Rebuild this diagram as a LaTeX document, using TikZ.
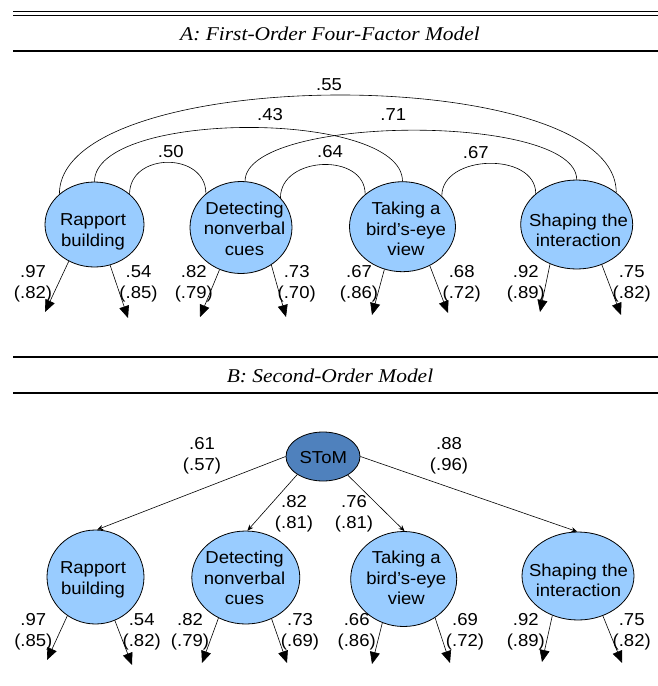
\documentclass[tikz,border=0pt]{standalone}
\usepackage{fontspec}
\setmainfont{Liberation Sans}[FakeStretch=1.07]
\newfontfamily\titlefont{Liberation Serif}[FakeStretch=1.1]
\usetikzlibrary{shapes.geometric,arrows.meta}
\definecolor{lblue}{RGB}{153,204,255}
\definecolor{dblue}{RGB}{79,129,189}
\begin{document}
\begin{tikzpicture}[x=1pt,y=-1pt,
  fac/.style={ellipse,draw,line width=0.8pt,fill=lblue,inner sep=0pt},
  ftxt/.style={font=\fontsize{17.3}{20.5}\selectfont,align=center,inner sep=0pt},
  lab/.style={font=\fontsize{17.3}{21}\selectfont,align=center,inner sep=0pt},
  corr/.style={line width=0.6pt},
  err/.style={line width=0.6pt,-{Triangle[length=12pt,width=10pt]}},
  load/.style={line width=0.6pt,-{Stealth[length=6pt,width=5pt]}},
  hrule/.style={line width=1.1pt},
  ttl/.style={font=\titlefont\itshape\fontsize{19.5}{22}\selectfont,anchor=base,inner sep=0pt}]
\useasboundingbox (0,0) rectangle (658,686);
% rules
\draw[hrule] (13,11.7) -- (658,11.7);
\draw[hrule] (13,15.2) -- (658,15.2);
\draw[hrule] (13,51) -- (658,51);
\draw[hrule] (13,357) -- (658,357);
\draw[hrule] (13,393) -- (658,393);
% titles
\node[ttl] (tA) at (330,40) {A: First-Order Four-Factor Model};
\node[ttl] (tB) at (330,382) {B: Second-Order Model};
% ===== Panel A =====
\node[fac,minimum width=99,minimum height=85] (RA) at (94.5,224.5) {};
\node[fac,minimum width=102,minimum height=92] (DA) at (241,227.5) {};
\node[fac,minimum width=106,minimum height=90] (TA) at (402.5,226.7) {};
\node[fac,minimum width=112,minimum height=89] (SA) at (576.7,224.5) {};
\node[ftxt] (RAt) at (93,232) {Rapport\\building};
\node[ftxt] (DAt) at (244.5,228.5) {Detecting\\nonverbal\\cues};
\node[ftxt] (TAt) at (406,229) {Taking a\\bird’s-eye\\view};
\node[ftxt] (SAt) at (578.5,230.5) {Shaping the\\interaction};
% correlations
\draw[corr] (RA.41.6) .. controls +(0,-42) and +(0,-42) .. (DA.136.5);
\draw[corr] (DA.37.7) .. controls +(0,-42) and +(0,-42) .. (TA.139.8);
\draw[corr] (TA.38) .. controls +(0,-42) and +(0,-42) .. (SA.143.4);
\draw[corr] (RA.90) .. controls +(0,-72) and +(0,-72) .. (TA.90);
\draw[corr] (DA.85) .. controls +(0,-67) and +(0,-67) .. (SA.90);
\draw[corr] (RA.139.5) .. controls +(0,-131) and +(0,-131) .. (SA.39.4);
\node[lab] (c55) at (329,85) {.55};
\node[lab] (c43) at (270,114.5) {.43};
\node[lab] (c71) at (393.3,114.2) {.71};
\node[lab] (c50) at (170.8,151.7) {.50};
\node[lab] (c64) at (330,151.7) {.64};
\node[lab] (c67) at (475.8,152.5) {.67};
% error arrows A
\coordinate (eRA1) at (45,312);  \coordinate (eRA2) at (128,318);
\coordinate (eDA1) at (200,317); \coordinate (eDA2) at (286,317);
\coordinate (eTA1) at (372,315); \coordinate (eTA2) at (448,313);
\coordinate (eSA1) at (540,312); \coordinate (eSA2) at (621,315);
\draw[err] (RA.235) -- (eRA1);
\draw[err] (RA.291) -- (eRA2);
\draw[err] (DA.243.7) -- (eDA1);
\draw[err] (DA.309) -- (eDA2);
\draw[err] (TA.247) -- (eTA1);
\draw[err] (TA.305.5) -- (eTA2);
\draw[err] (SA.236.6) -- (eSA1);
\draw[err] (SA.302) -- (eSA2);
\node[lab] (lRA1) at (33,284) {.97\\(.82)};
\node[lab] (lRA2) at (138.5,284) {.54\\(.85)};
\node[lab] (lDA1) at (193.8,284) {.82\\(.79)};
\node[lab] (lDA2) at (296.7,284) {.73\\(.70)};
\node[lab] (lTA1) at (359,284) {.67\\(.86)};
\node[lab] (lTA2) at (461.7,284) {.68\\(.72)};
\node[lab] (lSA1) at (525.8,284) {.92\\(.89)};
\node[lab] (lSA2) at (631.7,284) {.75\\(.82)};
% ===== Panel B =====
\node[fac,fill=dblue,minimum width=74,minimum height=49] (ST) at (323,456.5) {};
\node[ftxt] (STt) at (323.3,457.3) {SToM};
\node[fac,minimum width=97,minimum height=94] (RB) at (95.5,577) {};
\node[fac,minimum width=108,minimum height=93] (DB) at (245.8,577.5) {};
\node[fac,minimum width=106,minimum height=95] (TB) at (403.7,579) {};
\node[fac,minimum width=112,minimum height=88] (SB) at (578,576) {};
\node[ftxt] (RBt) at (93,580) {Rapport\\building};
\node[ftxt] (DBt) at (244.5,578) {Detecting\\nonverbal\\cues};
\node[ftxt] (TBt) at (406.3,578) {Taking a\\bird’s-eye\\view};
\node[ftxt] (SBt) at (578.5,580.5) {Shaping the\\interaction};
\draw[load] (ST.west) -- (RB.88);
\draw[load] (ST.215) -- (DB.88);
\draw[load] (ST.323) -- (TB.89);
\draw[load] (ST.east) -- (SB.91);
\node[lab] (l61) at (202,456) {.61\\(.57)};
\node[lab] (l88) at (449,456) {.88\\(.96)};
\node[lab] (l82) at (294,514) {.82\\(.81)};
\node[lab] (l76) at (354,514) {.76\\(.81)};
% error arrows B
\coordinate (eRB1) at (47,660);  \coordinate (eRB2) at (132,665);
\coordinate (eDB1) at (202,663); \coordinate (eDB2) at (287,663);
\coordinate (eTB1) at (372,664); \coordinate (eTB2) at (450,663);
\coordinate (eSB1) at (542,662); \coordinate (eSB2) at (622,663);
\draw[err] (RB.234.5) -- (eRB1);
\draw[err] (RB.294) -- (eRB2);
\draw[err] (DB.236.8) -- (eDB1);
\draw[err] (DB.302.6) -- (eDB2);
\draw[err] (TB.244) -- (eTB1);
\draw[err] (TB.309) -- (eTB2);
\draw[err] (SB.237.6) -- (eSB1);
\draw[err] (SB.302.7) -- (eSB2);
\node[lab] (lRB1) at (33.3,632) {.97\\(.85)};
\node[lab] (lRB2) at (141.7,632) {.54\\(.82)};
\node[lab] (lDB1) at (190,632) {.82\\(.79)};
\node[lab] (lDB2) at (300,632) {.73\\(.69)};
\node[lab] (lTB1) at (356.7,632) {.66\\(.86)};
\node[lab] (lTB2) at (465,632) {.69\\(.72)};
\node[lab] (lSB1) at (525.8,632) {.92\\(.89)};
\node[lab] (lSB2) at (631.7,632) {.75\\(.82)};
\end{tikzpicture}
\end{document}
